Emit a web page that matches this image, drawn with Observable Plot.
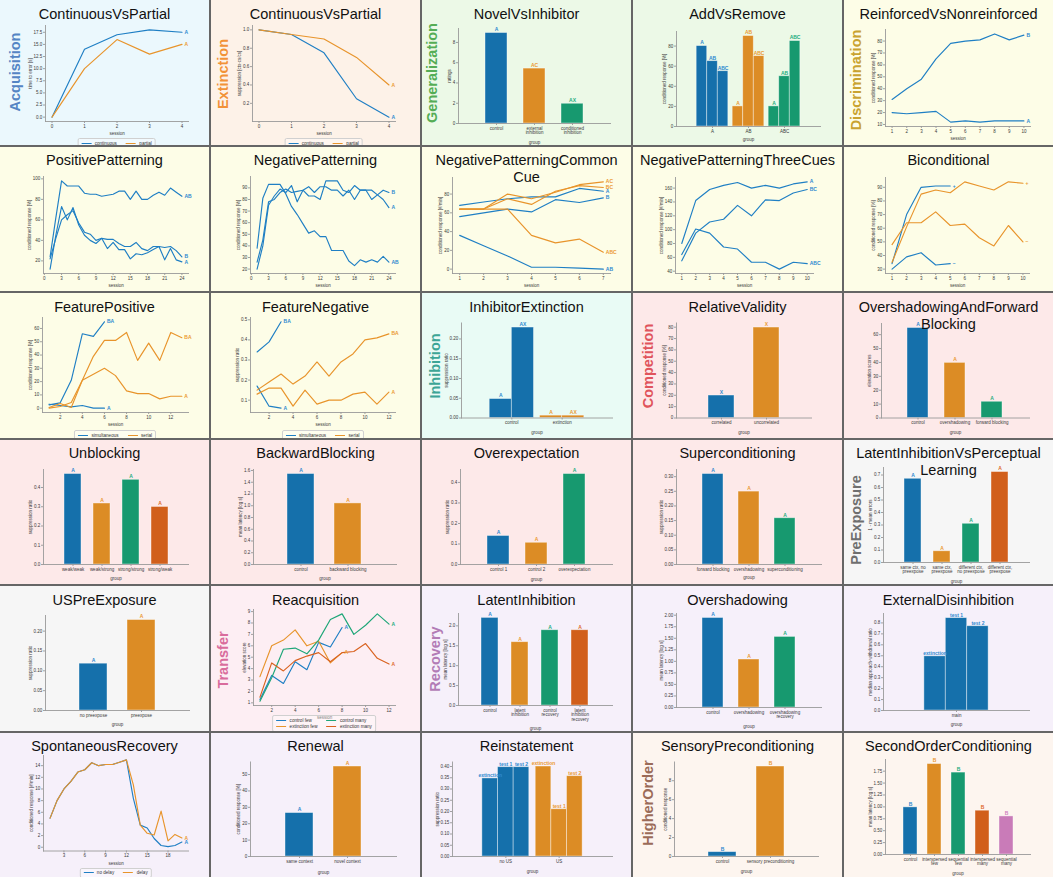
<!DOCTYPE html>
<html>
<head>
<meta charset="utf-8">
<script src="https://cdn.jsdelivr.net/npm/d3@7"></script>
<script src="https://cdn.jsdelivr.net/npm/@observablehq/plot@0.6"></script>
<style>
  html, body { margin: 0; padding: 0; background: #ffffff; }
  #grid { position: relative; width: 1053px; height: 877px; background: #666666; overflow: hidden; font-family: "Liberation Sans", Arial, Helvetica, sans-serif; }
  .cell { position: absolute; overflow: hidden; }
  .cell > svg { position: absolute; left: 0; top: 0; }
  .title { position: absolute; left: 0; width: 100%; top: 5.5px; text-align: center; font-size: 14.5px; line-height: 17px; color: #111; white-space: pre; z-index: 3; }
  .cat { position: absolute; font-size: 14.5px; font-weight: bold; line-height: 14.5px; white-space: nowrap; transform: translate(-50%, -50%) rotate(-90deg); z-index: 2; }
  .legend { position: absolute; transform: translateX(-50%); display: grid; grid-auto-flow: column; column-gap: 9px; row-gap: 0.5px; padding: 1.6px 3px; border: 0.6px solid #d0d0d0; border-radius: 2px; background: rgba(255,255,255,0.35); font-size: 4.6px; line-height: 5.4px; color: #333; z-index: 2; white-space: nowrap; }
  .legend .it { display: flex; align-items: center; gap: 3.5px; }
  .legend .sw { width: 10px; height: 1.2px; }
</style>
</head>
<body>
<div id="grid"></div>
<script>
// ================= DATA =================
// Row 1
const acqSessions = [0, 1, 2, 3, 4];
const acqContinuous = [0, 14, 17, 18, 17.5];
const acqPartial = [0, 10, 16, 13, 15];
const acqYTicks = [0, 2.5, 5, 7.5, 10, 12.5, 15, 17.5];

const extSessions = [0, 1, 2, 3, 4];
const extContinuous = [1.0, 0.95, 0.75, 0.25, 0.05];
const extPartial = [1.0, 0.95, 0.9, 0.7, 0.4];
const extYTicks = [0.2, 0.4, 0.6, 0.8, 1.0];

const novelGroups = ["control", "external\ninhibition", "conditioned\ninhibition"];
const novelValues = [8.93, 5.42, 1.95];
const novelLabels = ["A", "AC", "AX"];
const novelYTicks = [0, 2, 4, 6, 8];

const addGroups = ["A", "AB", "ABC"];
const addStimuli = ["A", "AB", "ABC"];
const addValues = [[80, 65, 55], [20, 90, 70], [20, 50, 85]];
const addYTicks = [0, 20, 40, 60, 80];

const rnSessions = [1, 2, 3, 4, 5, 6, 7, 8, 9, 10];
const rnB = [31, 40, 48, 65, 78, 80, 81, 86, 81, 85];
const rnA = [20, 19, 20, 21, 12, 13, 12, 13, 13, 13];
const rnYTicks = [10, 20, 30, 40, 50, 60, 70, 80];

// Row 2
const ppSessions = [1, 2, 3, 4, 5, 6, 7, 8, 9, 10, 11, 12, 13, 14, 15, 16, 17, 18, 19, 20, 21, 22, 23, 24];
const ppAB = [24, 62, 98, 93, 93, 93, 86, 85, 85, 83, 84, 85, 88, 88, 80, 88, 80, 80, 84, 87, 84, 91, 87, 83];
const ppB = [22, 42, 60, 65, 69, 57, 48, 46, 40, 42, 41, 41, 37, 34, 34, 38, 32, 30, 34, 34, 33, 34, 30, 24];
const ppA = [12, 45, 73, 60, 72, 55, 45, 40, 37, 42, 32, 38, 31, 31, 22, 27, 26, 28, 31, 34, 21, 32, 21, 19];
const ppYTicks = [20, 40, 60, 80, 100];
const ppXTicks = [0, 3, 6, 9, 12, 15, 18, 21, 24];

const npB = [20, 40, 75, 83, 89, 86, 92, 78, 88, 83, 83, 80, 96, 96, 96, 88, 86, 92, 88, 88, 80, 84, 88, 86];
const npA = [26, 45, 78, 80, 86, 89, 86, 87, 88, 91, 86, 91, 91, 88, 88, 83, 88, 80, 88, 88, 88, 84, 80, 73];
const npAB = [38, 81, 93, 93, 93, 85, 74, 67, 59, 51, 53, 48, 48, 36, 36, 36, 27, 23, 28, 26, 28, 26, 31, 26];
const npYTicks = [20, 30, 40, 50, 60, 70, 80, 90];

const npccSessions = [1, 2, 3, 4, 5, 6, 7];
const npccAC = [64, 64, 80, 75, 82, 90, 93];
const npccBC = [64, 64, 75, 69, 83, 89, 87];
const npccA = [68, 71.5, 75, 77, 77, 86, 83];
const npccB = [56, 60, 64, 61, 74, 71, 76];
const npccABC = [64, 64, 64, 36, 28, 32, 18];
const npccAB = [36, 25, 14, 2, 2, 1, 0];
const npccYTicks = [0, 20, 40, 60, 80];

const np3Sessions = [1, 2, 3, 4, 5, 6, 7, 8, 9, 10];
const np3A = [80, 142, 158, 164, 168, 160, 164, 160, 166, 169];
const np3BC = [55, 95, 111, 115, 135, 120, 143, 142, 153, 158];
const np3ABC = [64, 101, 95, 75, 72, 53, 53, 43, 53, 51];
const np3YTicks = [40, 60, 80, 100, 120, 140, 160];

const biSessions = [1, 2, 3, 4, 5, 6, 7, 8, 9, 10];
const biSessionsBlue = [1, 2, 3, 4, 5];
const biBluePlus = [34, 70, 90, 91, 91];
const biBlueMinus = [30, 39, 42, 33, 34];
const biOrangePlus = [35, 61, 85, 88, 86, 94, 91, 88, 94, 93];
const biOrangeMinus = [48, 64, 64, 72, 62, 63, 53, 47, 62, 50];
const biYTicks = [30, 40, 50, 60, 70, 80, 90];

// Row 3
const fpSimSessions = [1, 2, 3, 4, 5, 6];
const fpSerSessions = [1, 2, 3, 4, 5, 6, 7, 8, 9, 10, 11, 12, 13];
const fpSimBA = [2.5, 4, 21, 56, 54, 65];
const fpSimA = [3, 2, 1, 2, 0, 0];
const fpSerBA = [0, 1.3, 4.3, 21, 39, 51, 51, 57, 36, 49, 36, 57, 53];
const fpSerA = [0.5, 3.5, 0.5, 21, 25.5, 30, 24.5, 13, 11, 11, 7, 9, 9];
const fpYTicks = [0, 10, 20, 30, 40, 50, 60];
const fpXTicks = [2, 4, 6, 8, 10, 12];

const fnSimSessions = [1, 2, 3];
const fnSerSessions = [1, 2, 3, 4, 5, 6, 7, 8, 9, 10, 11, 12];
const fnSimBA = [0.34, 0.39, 0.49];
const fnSimA = [0.17, 0.07, 0.06];
const fnSerBA = [0.15, 0.19, 0.23, 0.18, 0.22, 0.29, 0.22, 0.29, 0.33, 0.40, 0.41, 0.43];
const fnSerA = [0.13, 0.16, 0.16, 0.07, 0.15, 0.08, 0.10, 0.10, 0.13, 0.14, 0.08, 0.14];
const fnYTicks = [0.1, 0.2, 0.3, 0.4, 0.5];
const fnXTicks = [2, 4, 6, 8, 10, 12];

const ieGroups = ["control", "extinction"];
const ieStimuli = ["A", "AX"];
const ieValues = [[0.048, 0.229], [0.006, 0.006]];
const ieYTicks = [0, 0.05, 0.10, 0.15, 0.20];

const rvGroups = ["correlated", "uncorrelated"];
const rvValues = [19.8, 79.7];
const rvLabels = ["X", "X"];
const rvYTicks = [0, 10, 20, 30, 40, 50, 60, 70, 80];

const ofbGroups = ["control", "overshadowing", "forward blocking"];
const ofbValues = [64.8, 39.7, 11.7];
const ofbLabels = ["A", "A", "A"];
const ofbYTicks = [0, 10, 20, 30, 40, 50, 60];

// Row 4
const unbGroups = ["weak/weak", "weak/strong", "strong/strong", "strong/weak"];
const unbValues = [0.47, 0.317, 0.44, 0.299];
const unbLabels = ["A", "A", "A", "A"];
const unbYTicks = [0, 0.1, 0.2, 0.3, 0.4];

const bbGroups = ["control", "backward blocking"];
const bbValues = [1.54, 1.04];
const bbLabels = ["A", "A"];
const bbYTicks = [0, 0.2, 0.4, 0.6, 0.8, 1.0, 1.2, 1.4, 1.6];

const oeGroups = ["control 1", "control 2", "overexpectation"];
const oeValues = [0.139, 0.106, 0.441];
const oeLabels = ["A", "A", "A"];
const oeYTicks = [0, 0.1, 0.2, 0.3, 0.4];

const scGroups = ["forward blocking", "overshadowing", "superconditioning"];
const scValues = [0.309, 0.249, 0.158];
const scLabels = ["A", "A", "A"];
const scYTicks = [0, 0.05, 0.10, 0.15, 0.20, 0.25, 0.30];

const lipGroups = ["same ctx, no\npreexpose", "same ctx,\npreexpose", "different ctx,\nno preexpose", "different ctx,\npreexpose"];
const lipValues = [0.67, 0.09, 0.31, 0.724];
const lipLabels = ["A", "A", "A", "A"];
const lipYTicks = [0, 0.1, 0.2, 0.3, 0.4, 0.5, 0.6, 0.7];

// Row 5
const usGroups = ["no preexpose", "preexpose"];
const usValues = [0.118, 0.228];
const usLabels = ["A", "A"];
const usYTicks = [0, 0.05, 0.10, 0.15, 0.20];

const reFewSessions = [1, 2, 3, 4, 5, 6, 7, 8];
const reManySessions = [1, 2, 3, 4, 5, 6, 7, 8, 9, 10, 11, 12];
const reControlFew = [1.3, 3.4, 2.7, 4.6, 3.9, 6.3, 5.9, 7.6];
const reExtinctionFew = [3.3, 6.0, 6.5, 7.4, 6.0, 6.4, 4.5, 5.4];
const reControlMany = [1.15, 3.2, 5.7, 5.8, 5.3, 6.5, 8.3, 8.8, 7.0, 7.8, 8.8, 7.9];
const reExtinctionMany = [1.5, 4.5, 3.8, 4.7, 5.1, 5.4, 4.6, 5.4, 5.5, 6.2, 4.9, 4.4];
const reYTicks = [1, 2, 3, 4, 5, 6, 7, 8, 9];
const reXTicks = [2, 4, 6, 8, 10, 12];

const liGroups = ["control", "latent\ninhibition", "control\nrecovery", "latent\ninhibition\nrecovery"];
const liValues = [2.2, 1.59, 1.89, 1.89];
const liLabels = ["A", "A", "A", "A"];
const liYTicks = [0, 0.5, 1.0, 1.5, 2.0];

const osGroups = ["control", "overshadowing", "overshadowing\nrecovery"];
const osValues = [1.94, 1.04, 1.53];
const osLabels = ["A", "A", "A"];
const osYTicks = [0, 0.25, 0.5, 0.75, 1.0, 1.25, 1.5, 1.75, 2.0];

const edGroups = ["main"];
const edPhases = ["extinction", "test 1", "test 2"];
const edValues = [[0.495, 0.844, 0.77]];
const edYTicks = [0, 0.1, 0.2, 0.3, 0.4, 0.5, 0.6, 0.7, 0.8];

// Row 6
const srSessions = [1, 2, 3, 4, 5, 6, 7, 8, 9, 10, 11, 12, 13, 14, 15, 16, 17, 18, 19, 20];
const srNoDelay = [5, 8, 10, 11.3, 12.9, 13.3, 14.5, 14, 14.2, 14.2, 14.6, 15, 8.4, 3.8, 3.3, 1.5, 0.3, 0.1, 0.3, 0.9];
const srDelay = [5, 8, 10, 11.3, 12.9, 13.3, 14.5, 14, 14.2, 14.2, 14.6, 15, 10.7, 3.8, 2.4, 2.1, 6.2, 1.1, 2.2, 1.6];
const srYTicks = [0, 2, 4, 6, 8, 10, 12, 14];
const srXTicks = [3, 6, 9, 12, 15, 18];

const renGroups = ["same context", "novel context"];
const renValues = [26.5, 54.9];
const renLabels = ["A", "A"];
const renYTicks = [0, 10, 20, 30, 40, 50];

const reinGroups = ["no US", "US"];
const reinPhases = ["extinction", "test 1", "test 2"];
const reinValues = [[0.347, 0.397, 0.397], [0.40, 0.21, 0.357]];
const reinYTicks = [0, 0.05, 0.10, 0.15, 0.20, 0.25, 0.30, 0.35, 0.40];

const spGroups = ["control", "sensory preconditioning"];
const spValues = [0.46, 9.5];
const spLabels = ["B", "B"];
const spYTicks = [0, 2, 4, 6, 8];

const socGroups = ["control", "interspersed\nfew", "sequential\nfew", "interspersed\nmany", "sequential\nmany"];
const socValues = [0.99, 1.9, 1.72, 0.92, 0.8];
const socLabels = ["B", "B", "B", "B", "B"];
const socYTicks = [0, 0.25, 0.5, 0.75, 1.0, 1.25, 1.5, 1.75];

// ================= STYLE =================
const PAL = {blue: "#1570ab", orange: "#dc8c25", green: "#17996f", red: "#d15f1b", pink: "#c97bb8"};
const LINEC = {blue: "#1f7fc4", orange: "#e8942b", green: "#1ea678", red: "#d9621f"};
const TXTC = {blue: "#2f8ad0", orange: "#eb9a33", green: "#25ad80", red: "#de6a2a", pink: "#cf82c0"};
const CATS = {
  Acquisition: {bg: "#ebf8fd", fg: "#5485c4"},
  Extinction: {bg: "#fdf2e8", fg: "#f29238"},
  Generalization: {bg: "#ecf9e7", fg: "#55ad55"},
  Discrimination: {bg: "#fdfde7", fg: "#c9a330"},
  Inhibition: {bg: "#e9fbf5", fg: "#3ca596"},
  Competition: {bg: "#fde9e9", fg: "#e0545c"},
  PreExposure: {bg: "#f6f6f6", fg: "#6f6f6f"},
  Transfer: {bg: "#fdeef3", fg: "#d96c9c"},
  Recovery: {bg: "#f6f0fa", fg: "#b27cb6"},
  HigherOrder: {bg: "#fdf5ef", fg: "#9b6b58"}
};
const FONT = "'Liberation Sans', Arial, Helvetica, sans-serif";
const CW = 209, CH = 145;
const COLX = [0, 211, 422, 633, 844];
const ROWY = [0, 146.5, 293, 439.5, 586, 732.5];
const TICKFS = 4.5;

const panels = [
  {type: "line", title: "ContinuousVsPartial", cat: "Acquisition", catPos: [15, 72], g: [45, 25, 188, 121],
   yLabel: "time to error [s]", yTicks: acqYTicks, yFmt: ".1f", xTicks: acqSessions,
   series: [{key: "continuous", x: acqSessions, y: acqContinuous, c: "blue", label: "A"},
            {key: "partial", x: acqSessions, y: acqPartial, c: "orange", label: "A"}],
   legend: {items: [["continuous", "blue"], ["partial", "orange"]], rows: 1, top: 138}},
  {type: "line", title: "ContinuousVsPartial", cat: "Extinction", catPos: [12, 74], g: [41, 25, 184, 121],
   yLabel: "suppression [ctx-cs/cs]", yTicks: extYTicks, yFmt: ".1f", xTicks: extSessions,
   series: [{key: "continuous", x: extSessions, y: extContinuous, c: "blue", label: "A"},
            {key: "partial", x: extSessions, y: extPartial, c: "orange", label: "A"}],
   legend: {items: [["continuous", "blue"], ["partial", "orange"]], rows: 1, top: 138}},
  {type: "bar", title: "NovelVsInhibitor", cat: "Generalization", catPos: [9.7, 72.5], g: [36, 28, 188, 123],
   yLabel: "ratings", yTicks: novelYTicks, yFmt: "d", xLabel: "group", xLabOff: 20.5,
   groups: novelGroups, values: novelValues, labels: novelLabels, colors: ["blue", "orange", "green"]},
  {type: "group", title: "AddVsRemove", cat: "Generalization", g: [43, 31, 187, 126],
   yLabel: "conditioned response [%]", yTicks: addYTicks, yFmt: "d", xLabel: "group", xLabOff: 14.8,
   groups: addGroups, subs: addStimuli, values: addValues, colors: ["blue", "orange", "green"]},
  {type: "line", title: "ReinforcedVsNonreinforced", cat: "Discrimination", catPos: [12, 80], g: [41, 29, 186, 126],
   yLabel: "conditioned response [%]", yTicks: rnYTicks, yFmt: "d", xTicks: rnSessions,
   series: [{key: "B", x: rnSessions, y: rnB, c: "blue", label: "B"},
            {key: "A", x: rnSessions, y: rnA, c: "blue", label: "A"}]},

  {type: "line", title: "PositivePatterning", cat: "Discrimination", g: [43, 29, 188, 126],
   yLabel: "conditioned response [%]", yTicks: ppYTicks, yFmt: "d", xTicks: ppXTicks,
   series: [{key: "AB", x: ppSessions, y: ppAB, c: "blue", label: "AB"},
            {key: "B", x: ppSessions, y: ppB, c: "blue", label: "B"},
            {key: "A", x: ppSessions, y: ppA, c: "blue", label: "A"}]},
  {type: "line", title: "NegativePatterning", cat: "Discrimination", g: [39, 29, 184, 126],
   yLabel: "conditioned response [%]", yTicks: npYTicks, yFmt: "d", xTicks: ppXTicks,
   series: [{key: "B", x: ppSessions, y: npB, c: "blue", label: "B"},
            {key: "A", x: ppSessions, y: npA, c: "blue", label: "A"},
            {key: "AB", x: ppSessions, y: npAB, c: "blue", label: "AB"}]},
  {type: "line", title: "NegativePatterningCommon\nCue", cat: "Discrimination", g: [30, 30, 188, 126],
   yLabel: "conditioned response [#/min]", yTicks: npccYTicks, yFmt: "d", xTicks: npccSessions,
   series: [{key: "A", x: npccSessions, y: npccA, c: "blue", label: "A"},
            {key: "B", x: npccSessions, y: npccB, c: "blue", label: "B"},
            {key: "AB", x: npccSessions, y: npccAB, c: "blue", label: "AB"},
            {key: "AC", x: npccSessions, y: npccAC, c: "orange", label: "AC"},
            {key: "BC", x: npccSessions, y: npccBC, c: "orange", label: "BC"},
            {key: "ABC", x: npccSessions, y: npccABC, c: "orange", label: "ABC"}]},
  {type: "line", title: "NegativePatterningThreeCues", cat: "Discrimination", g: [42, 30, 180, 126],
   yLabel: "conditioned response [#/min]", yTicks: np3YTicks, yFmt: "d", xTicks: np3Sessions,
   series: [{key: "A", x: np3Sessions, y: np3A, c: "blue", label: "A"},
            {key: "BC", x: np3Sessions, y: np3BC, c: "blue", label: "BC"},
            {key: "ABC", x: np3Sessions, y: np3ABC, c: "blue", label: "ABC"}]},
  {type: "line", title: "Biconditional", cat: "Discrimination", g: [41, 30, 185, 126],
   yLabel: "conditioned response [%]", yTicks: biYTicks, yFmt: "d", xTicks: biSessions,
   series: [{key: "b+", x: biSessionsBlue, y: biBluePlus, c: "blue", label: "+"},
            {key: "b-", x: biSessionsBlue, y: biBlueMinus, c: "blue", label: "\u2212"},
            {key: "o+", x: biSessions, y: biOrangePlus, c: "orange", label: "+"},
            {key: "o-", x: biSessions, y: biOrangeMinus, c: "orange", label: "\u2212"}]},

  {type: "line", title: "FeaturePositive", cat: "Discrimination", g: [42, 24, 188, 119],
   yLabel: "conditioned response [%]", yTicks: fpYTicks, yFmt: "d", xTicks: fpXTicks,
   series: [{key: "sBA", x: fpSimSessions, y: fpSimBA, c: "blue", label: "BA"},
            {key: "sA", x: fpSimSessions, y: fpSimA, c: "blue", label: "A"},
            {key: "rBA", x: fpSerSessions, y: fpSerBA, c: "orange", label: "BA"},
            {key: "rA", x: fpSerSessions, y: fpSerA, c: "orange", label: "A"}],
   legend: {items: [["simultaneous", "blue"], ["serial", "orange"]], rows: 1, top: 137}},
  {type: "line", title: "FeatureNegative", cat: "Discrimination", g: [39, 24, 184, 119],
   yLabel: "suppression ratio", yTicks: fnYTicks, yFmt: ".1f", xTicks: fnXTicks,
   series: [{key: "sBA", x: fnSimSessions, y: fnSimBA, c: "blue", label: "BA"},
            {key: "sA", x: fnSimSessions, y: fnSimA, c: "blue", label: "A"},
            {key: "rBA", x: fnSerSessions, y: fnSerBA, c: "orange", label: "BA"},
            {key: "rA", x: fnSerSessions, y: fnSerA, c: "orange", label: "A"}],
   legend: {items: [["simultaneous", "blue"], ["serial", "orange"]], rows: 1, top: 137}},
  {type: "group", title: "InhibitorExtinction", cat: "Inhibition", catPos: [12.5, 73], g: [39, 29.5, 190, 124.5],
   yLabel: "suppression ratio", yTicks: ieYTicks, yFmt: ".2f", xLabel: "group", xLabOff: 15.7,
   groups: ieGroups, subs: ieStimuli, values: ieValues, colors: ["blue", "orange"]},
  {type: "bar", title: "RelativeValidity", cat: "Competition", catPos: [15, 73], g: [43, 29.5, 178, 124.5],
   yLabel: "conditioned response [%]", yTicks: rvYTicks, yFmt: "d", xLabel: "group", xLabOff: 15.7,
   groups: rvGroups, values: rvValues, labels: rvLabels, colors: ["blue", "orange"]},
  {type: "bar", title: "OvershadowingAndForward\nBlocking", cat: "Competition", g: [37, 30, 185, 124.5],
   yLabel: "elevation scores", yTicks: ofbYTicks, yFmt: "d", xLabel: "group", xLabOff: 15.7,
   groups: ofbGroups, values: ofbValues, labels: ofbLabels, colors: ["blue", "orange", "green"]},

  {type: "bar", title: "Unblocking", cat: "Competition", g: [43, 29, 188, 124],
   yLabel: "suppression ratio", yTicks: unbYTicks, yFmt: ".1f", xLabel: "group", xLabOff: 15.5,
   groups: unbGroups, values: unbValues, labels: unbLabels, colors: ["blue", "orange", "green", "red"]},
  {type: "bar", title: "BackwardBlocking", cat: "Competition", g: [42, 29, 185, 124],
   yLabel: "mean latency [log s]", yTicks: bbYTicks, yFmt: ".1f", xLabel: "group", xLabOff: 15.7,
   groups: bbGroups, values: bbValues, labels: bbLabels, colors: ["blue", "orange"]},
  {type: "bar", title: "Overexpectation", cat: "Competition", g: [38, 29, 190, 124],
   yLabel: "suppression ratio", yTicks: oeYTicks, yFmt: ".1f", xLabel: "group", xLabOff: 16,
   groups: oeGroups, values: oeValues, labels: oeLabels, colors: ["blue", "orange", "green"]},
  {type: "bar", title: "Superconditioning", cat: "Competition", g: [43, 29, 188, 124],
   yLabel: "suppression ratio", yTicks: scYTicks, yFmt: ".2f", xLabel: "group", xLabOff: 14.7,
   groups: scGroups, values: scValues, labels: scLabels, colors: ["blue", "orange", "green"]},
  {type: "bar", title: "LatentInhibitionVsPerceptual\nLearning", cat: "PreExposure", catPos: [11.5, 80], g: [39, 27, 185, 122],
   yLabel: "1 - mean errors", yTicks: lipYTicks, yFmt: ".1f", xLabel: "group", xLabOff: 20,
   groups: lipGroups, values: lipValues, labels: lipLabels, colors: ["blue", "orange", "green", "red"]},

  {type: "bar", title: "USPreExposure", cat: "PreExposure", g: [45, 29, 189, 124],
   yLabel: "suppression ratio", yTicks: usYTicks, yFmt: ".2f", xLabel: "group", xLabOff: 15.2,
   groups: usGroups, values: usValues, labels: usLabels, colors: ["blue", "orange"]},
  {type: "line", title: "Reacquisition", cat: "Transfer", catPos: [11.5, 74], g: [42, 23, 184, 119],
   yLabel: "elevation score", yTicks: reYTicks, yFmt: "d", xTicks: reXTicks,
   series: [{key: "cf", x: reFewSessions, y: reControlFew, c: "blue", label: "A"},
            {key: "ef", x: reFewSessions, y: reExtinctionFew, c: "orange", label: "A"},
            {key: "cm", x: reManySessions, y: reControlMany, c: "green", label: "A"},
            {key: "em", x: reManySessions, y: reExtinctionMany, c: "red", label: "A"}],
   legend: {items: [["control few", "blue"], ["extinction few", "orange"], ["control many", "green"], ["extinction many", "red"]], rows: 2, top: 129}},
  {type: "bar", title: "LatentInhibition", cat: "Recovery", catPos: [13, 73], g: [36, 27, 190, 119],
   yLabel: "mean latency [log s]", yTicks: liYTicks, yFmt: ".1f", xLabel: "group", xLabOff: 24,
   groups: liGroups, values: liValues, labels: liLabels, colors: ["blue", "orange", "green", "red"]},
  {type: "bar", title: "Overshadowing", cat: "Recovery", g: [43, 27, 188, 121],
   yLabel: "mean latency [log s]", yTicks: osYTicks, yFmt: ".2f", xLabel: "group", xLabOff: 20.5,
   groups: osGroups, values: osValues, labels: osLabels, colors: ["blue", "orange", "green"]},
  {type: "group", title: "ExternalDisinhibition", cat: "Recovery", g: [39, 27, 185, 124],
   yLabel: "median approach-withdrawal ratio", yTicks: edYTicks, yFmt: ".1f", xLabel: "group", xLabOff: 15.8,
   groups: edGroups, subs: edPhases, values: edValues, colors: ["blue"]},

  {type: "line", title: "SpontaneousRecovery", cat: "Recovery", g: [43, 22, 188, 117.5],
   yLabel: "conditioned response [#/min]", yTicks: srYTicks, yFmt: "d", xTicks: srXTicks,
   series: [{key: "nd", x: srSessions, y: srNoDelay, c: "blue", label: "A"},
            {key: "d", x: srSessions, y: srDelay, c: "orange", label: "A"}],
   legend: {items: [["no delay", "blue"], ["delay", "orange"]], rows: 1, top: 135}},
  {type: "bar", title: "Renewal", cat: "Recovery", g: [39, 28.5, 185, 123],
   yLabel: "conditioned response [%]", yTicks: renYTicks, yFmt: "d", xLabel: "group", xLabOff: 17,
   groups: renGroups, values: renValues, labels: renLabels, colors: ["blue", "orange"]},
  {type: "group", title: "Reinstatement", cat: "Recovery", g: [30, 28.5, 190, 123],
   yLabel: "suppression ratio", yTicks: reinYTicks, yFmt: ".2f", xLabel: "group", xLabOff: 16,
   groups: reinGroups, subs: reinPhases, values: reinValues, colors: ["blue", "orange"]},
  {type: "bar", title: "SensoryPreconditioning", cat: "HigherOrder", catPos: [15, 70], g: [41, 28.5, 185, 123],
   yLabel: "conditioned response", yTicks: spYTicks, yFmt: "d", xLabel: "group", xLabOff: 16.3,
   groups: spGroups, values: spValues, labels: spLabels, colors: ["blue", "orange"]},
  {type: "bar", title: "SecondOrderConditioning", cat: "HigherOrder", g: [41, 26, 186, 121],
   yLabel: "mean latency [log s]", yTicks: socYTicks, yFmt: ".2f", xLabel: "group", xLabOff: 20,
   groups: socGroups, values: socValues, labels: socLabels, colors: ["blue", "orange", "green", "red", "pink"]}
];

// ================= BUILDERS =================
function tw(s) {
  let w = 0;
  for (const ch of String(s)) w += (ch === "." || ch === ",") ? 0.278 : (ch === "-" ? 0.333 : 0.556);
  return w * TICKFS;
}
function frameOpts(p) {
  const [l, t, r, b] = p.g;
  return {
    width: CW, height: CH, marginLeft: l, marginTop: t, marginRight: CW - r, marginBottom: CH - b,
    style: {fontFamily: FONT, fontSize: TICKFS + "px", background: "transparent", overflow: "visible", color: "#3a3a3a"}
  };
}
function axes(p, xOpts) {
  const yf = d3.format(p.yFmt);
  const yw = d3.max(p.yTicks, t => tw(yf(t)));
  const common = {tickSize: 2, tickPadding: 1.2, fontSize: TICKFS, stroke: "#8c8c8c", strokeWidth: 0.8,
                  fill: "#3a3a3a", labelAnchor: "center", labelArrow: "none"};
  return [
    Plot.axisY({...common, ticks: p.yTicks, tickFormat: yf, label: p.yLabel, labelOffset: yw + 8.3}),
    Plot.axisX({...common, ...xOpts, label: p.xLabel ?? "session", labelOffset: p.xLabOff ?? 13.5})
  ];
}
function spines() {
  return [
    Plot.frame({anchor: "left", stroke: "#9a9a9a", strokeWidth: 0.9}),
    Plot.frame({anchor: "bottom", stroke: "#9a9a9a", strokeWidth: 0.9})
  ];
}
function padExt(ext) { const d = ext[1] - ext[0]; return [ext[0] - 0.05 * d, ext[1] + 0.05 * d]; }

function buildLine(p) {
  const rows = p.series.flatMap(s => s.y.map((v, i) => ({x: s.x[i], y: v, key: s.key, c: s.c, label: s.label})));
  return Plot.plot({
    ...frameOpts(p),
    x: {domain: padExt(d3.extent(rows, d => d.x))},
    y: {domain: padExt(d3.extent(rows, d => d.y))},
    color: {type: "identity"},
    marks: [
      ...axes(p, {ticks: p.xTicks, tickFormat: d3.format("d")}),
      Plot.line(rows, {x: "x", y: "y", z: "key", stroke: d => LINEC[d.c], strokeWidth: 1.15}),
      Plot.text(rows, Plot.selectLast({x: "x", y: "y", z: "key", text: "label", fill: d => TXTC[d.c],
        dx: 2.5, textAnchor: "start", fontSize: 5, fontWeight: "bold"})),
      ...spines()
    ]
  });
}
function buildBar(p) {
  const rows = p.groups.map((g, i) => ({g, v: p.values[i], c: p.colors[i], lab: p.labels[i]}));
  return Plot.plot({
    ...frameOpts(p),
    x: {type: "band", domain: p.groups, paddingInner: 0.425, paddingOuter: 0.7125, align: 0.5},
    y: {domain: [0, d3.max(p.values) * 1.05]},
    color: {type: "identity"},
    marks: [
      ...axes(p, {}),
      Plot.barY(rows, {x: "g", y: "v", fill: d => PAL[d.c], stroke: "#ffffff", strokeOpacity: 0.5, strokeWidth: 0.8}),
      Plot.text(rows, {x: "g", y: "v", text: "lab", fill: d => TXTC[d.c], dy: -3.2, fontSize: 5, fontWeight: "bold"}),
      ...spines()
    ]
  });
}
function buildGroup(p) {
  const k = p.subs.length, gw = 0.88, w = gw / k, n = p.groups.length;
  const rows = p.groups.flatMap((g, gi) => p.subs.map((s, si) => ({gi, si, v: p.values[gi][si], c: p.colors[gi], lab: s})));
  return Plot.plot({
    ...frameOpts(p),
    x: {domain: [-1, n]},
    y: {domain: [0, d3.max(rows, d => d.v) * 1.05]},
    color: {type: "identity"},
    marks: [
      ...axes(p, {ticks: d3.range(n), tickFormat: i => p.groups[i]}),
      Plot.rect(rows, {x1: d => d.gi - gw / 2 + d.si * w, x2: d => d.gi - gw / 2 + (d.si + 1) * w,
        y1: () => 0, y2: "v", fill: d => PAL[d.c], stroke: "#ffffff", strokeOpacity: 0.5, strokeWidth: 0.8}),
      Plot.text(rows, {x: d => d.gi - gw / 2 + (d.si + 0.5) * w, y: "v", text: "lab", fill: d => TXTC[d.c],
        dy: -3.2, fontSize: 5, fontWeight: "bold"}),
      ...spines()
    ]
  });
}

// ================= RENDER =================
const grid = document.getElementById("grid");
panels.forEach((p, i) => {
  const col = i % 5, row = Math.floor(i / 5);
  const cell = document.createElement("div");
  cell.className = "cell";
  Object.assign(cell.style, {left: COLX[col] + "px", top: ROWY[row] + "px", width: "209px", height: "144.5px", background: CATS[p.cat].bg});
  const svg = p.type === "line" ? buildLine(p) : p.type === "bar" ? buildBar(p) : buildGroup(p);
  cell.appendChild(svg);
  const t = document.createElement("div");
  t.className = "title";
  t.textContent = p.title;
  cell.appendChild(t);
  if (p.catPos) {
    const c = document.createElement("div");
    c.className = "cat";
    c.textContent = p.cat;
    c.style.left = p.catPos[0] + "px";
    c.style.top = p.catPos[1] + "px";
    c.style.color = CATS[p.cat].fg;
    cell.appendChild(c);
  }
  if (p.legend) {
    const lg = document.createElement("div");
    lg.className = "legend";
    lg.style.left = ((p.g[0] + p.g[2]) / 2) + "px";
    lg.style.top = p.legend.top + "px";
    lg.style.gridTemplateRows = `repeat(${p.legend.rows}, auto)`;
    for (const [name, c] of p.legend.items) {
      const it = document.createElement("div");
      it.className = "it";
      const sw = document.createElement("span");
      sw.className = "sw";
      sw.style.background = LINEC[c];
      const tx = document.createElement("span");
      tx.textContent = name;
      it.appendChild(sw);
      it.appendChild(tx);
      lg.appendChild(it);
    }
    cell.appendChild(lg);
  }
  grid.appendChild(cell);
});
</script>
</body>
</html>
